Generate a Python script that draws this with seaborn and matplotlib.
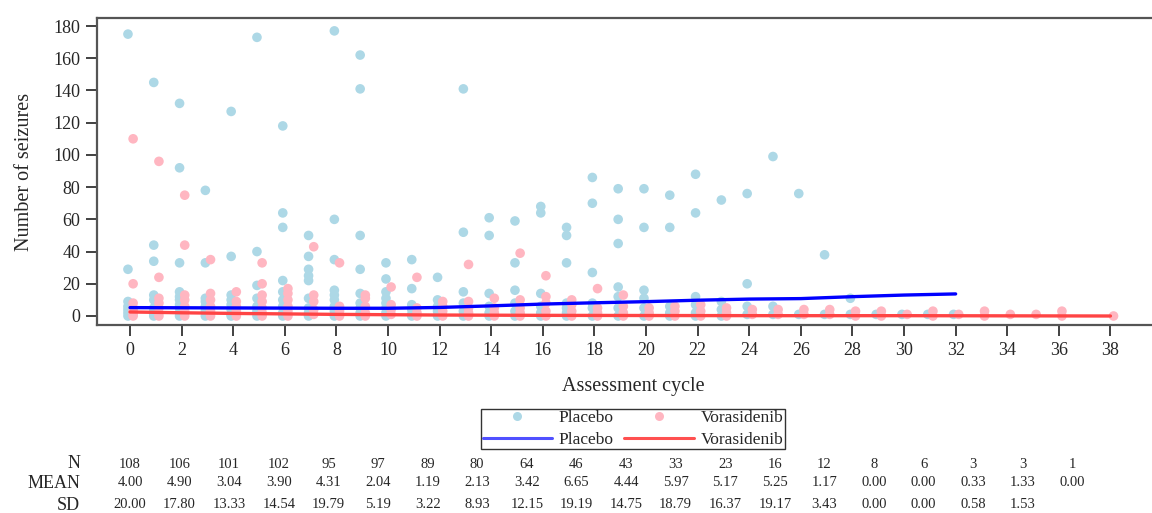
import matplotlib
matplotlib.use("Agg")
import matplotlib.pyplot as plt
from matplotlib.lines import Line2D
import seaborn as sns
import pandas as pd

# scatter values per assessment cycle
placebo_pts = {
    0: [175, 29, 9, 6, 4, 2, 0],
    1: [145, 44, 34, 13, 10, 5, 3, 1, 0],
    2: [132, 92, 33, 15, 12, 10, 7, 5, 2, 0],
    3: [78, 33, 11, 9, 6, 3, 0],
    4: [127, 37, 13, 10, 7, 4, 1, 0],
    5: [173, 40, 19, 11, 6, 3, 0],
    6: [118, 64, 55, 22, 15, 10, 6, 2, 0],
    7: [50, 37, 29, 25, 22, 11, 5, 2, 0],
    8: [177, 60, 35, 16, 13, 10, 6, 3, 0],
    9: [162, 141, 50, 29, 14, 8, 5, 2, 0],
    10: [33, 23, 15, 11, 8, 5, 2, 0],
    11: [35, 17, 7, 4, 1, 0],
    12: [24, 10, 6, 3, 0],
    13: [141, 52, 15, 8, 3, 0],
    14: [61, 50, 14, 6, 2, 0],
    15: [59, 33, 16, 8, 3, 0],
    16: [68, 64, 14, 6, 2, 0],
    17: [55, 50, 33, 8, 5, 2, 0],
    18: [86, 70, 27, 8, 5, 0],
    19: [79, 60, 45, 18, 12, 5, 0],
    20: [79, 55, 16, 11, 5, 0],
    21: [75, 55, 6, 2, 0],
    22: [88, 64, 12, 7, 2, 0],
    23: [72, 9, 4, 0],
    24: [76, 20, 6, 1],
    25: [99, 6, 1],
    26: [76, 1],
    27: [38, 1],
    28: [11, 1],
    29: [1],
    30: [1],
    31: [1],
    32: [1],
}
vora_pts = {
    0: [110, 20, 8, 5, 3, 1, 0],
    1: [96, 24, 11, 8, 5, 2, 0],
    2: [75, 44, 13, 10, 6, 3, 0],
    3: [35, 14, 10, 6, 3, 0],
    4: [15, 9, 6, 3, 0],
    5: [33, 20, 13, 9, 5, 2, 0],
    6: [17, 14, 10, 6, 3, 0],
    7: [43, 13, 9, 4, 1],
    8: [33, 6, 3, 0],
    9: [13, 11, 6, 2, 0],
    10: [18, 7, 4, 1],
    11: [24, 5, 2, 0],
    12: [9, 6, 3, 0],
    13: [32, 9, 5, 2, 0],
    14: [11, 5, 2, 0],
    15: [39, 10, 5, 2, 0],
    16: [25, 12, 8, 3, 0],
    17: [10, 7, 3, 0],
    18: [17, 5, 2, 0],
    19: [13, 6, 2, 0],
    20: [5, 2, 0],
    21: [6, 3, 0],
    22: [7, 3, 0],
    23: [5, 2, 0],
    24: [4, 1],
    25: [4, 1],
    26: [4, 1],
    27: [4, 1],
    28: [3, 0],
    29: [3, 0],
    30: [1],
    31: [3, 0],
    32: [1],
    33: [3, 0],
    34: [1],
    35: [1],
    36: [3, 0],
    38: [0],
}

# smoothed mean lines
placebo_line_x = [0, 2, 4, 6, 8, 10, 12, 14, 16, 18, 20, 22, 24, 26, 28, 30, 32]
placebo_line_y = [5.2, 5.1, 5.0, 4.9, 4.8, 4.8, 5.3, 6.3, 7.4, 8.2, 8.9, 9.8, 10.5, 10.8, 12.0, 13.0, 13.7]
vora_line_x = [0, 2, 4, 6, 8, 10, 12, 14, 16, 20, 25, 30, 38]
vora_line_y = [2.5, 2.0, 1.6, 1.3, 1.0, 0.8, 0.6, 0.5, 0.4, 0.3, 0.2, 0.2, 0.0]

# summary table
n_vals = ["108", "106", "101", "102", "95", "97", "89", "80", "64", "46",
          "43", "33", "23", "16", "12", "8", "6", "3", "3", "1"]
mean_vals = ["4.00", "4.90", "3.04", "3.90", "4.31", "2.04", "1.19", "2.13", "3.42", "6.65",
             "4.44", "5.97", "5.17", "5.25", "1.17", "0.00", "0.00", "0.33", "1.33", "0.00"]
sd_vals = ["20.00", "17.80", "13.33", "14.54", "19.79", "5.19", "3.22", "8.93", "12.15", "19.19",
           "14.75", "18.79", "16.37", "19.17", "3.43", "0.00", "0.00", "0.58", "1.53", ""]

rows = []
for cyc, vals in placebo_pts.items():
    for v in vals:
        rows.append({"cycle": cyc - 0.08, "seizures": v, "group": "Placebo"})
for cyc, vals in vora_pts.items():
    for v in vals:
        rows.append({"cycle": cyc + 0.12, "seizures": v, "group": "Vorasidenib"})
pts = pd.DataFrame(rows)

lines = pd.concat([
    pd.DataFrame({"cycle": placebo_line_x, "seizures": placebo_line_y, "group": "Placebo"}),
    pd.DataFrame({"cycle": vora_line_x, "seizures": vora_line_y, "group": "Vorasidenib"}),
])

sns.set_style("white")
plt.rcParams["font.family"] = ["Liberation Serif", "DejaVu Serif"]

W, H = 1152, 513
fig = plt.figure(figsize=(W / 100, H / 100), dpi=100)
ax = fig.add_axes([97 / W, 1 - 325 / H, (1169 - 97) / W, (325 - 18) / H])

dot_pal = {"Placebo": "#add8e6", "Vorasidenib": "#ffb6c1"}
line_pal = {"Placebo": "#0000ff", "Vorasidenib": "#ff4444"}

sns.scatterplot(data=pts, x="cycle", y="seizures", hue="group", palette=dot_pal,
                s=48, edgecolor="none", legend=False, ax=ax)
sns.lineplot(data=lines, x="cycle", y="seizures", hue="group", palette=line_pal,
             linewidth=2.4, legend=False, ax=ax)

ax.set_xlim(-1.28, 40.27)
ax.set_ylim(-5.59, 185)
ax.set_xticks(range(0, 39, 2))
ax.set_yticks(range(0, 181, 20))
ax.tick_params(axis="both", which="major", direction="out", length=8, width=1.3,
               color="#333333", labelsize=13, pad=4, left=True, bottom=True)
for side in ["left", "bottom", "top"]:
    ax.spines[side].set_color("#555555")
    ax.spines[side].set_linewidth(1.6)
ax.spines["right"].set_visible(False)
ax.set_xlabel("Assessment cycle", fontsize=14.5, labelpad=13)
ax.set_ylabel("Number of seizures", fontsize=14.5, labelpad=14)

handles = [
    Line2D([], [], marker="o", color="none", markerfacecolor=dot_pal["Placebo"],
           markeredgecolor="none", markersize=6.5),
    Line2D([], [], color="#5050ff", linewidth=2.2),
    Line2D([], [], marker="o", color="none", markerfacecolor=dot_pal["Vorasidenib"],
           markeredgecolor="none", markersize=6.5),
    Line2D([], [], color="#ff5050", linewidth=2.2),
]
labels = ["Placebo", "Placebo", "Vorasidenib", "Vorasidenib"]
leg = fig.legend(handles, labels, ncol=2, loc="center", bbox_to_anchor=(633 / W, 1 - 429 / H),
                 frameon=True, fancybox=False, edgecolor="black", fontsize=12.5,
                 handlelength=4.0, handletextpad=0.4, columnspacing=0.6,
                 labelspacing=0.3, borderpad=0.1)
leg.get_frame().set_linewidth(1.0)

# summary rows under the chart
row_y = [464, 483, 505]
for label, vals, yy in zip(["N", "MEAN", "SD"], [n_vals, mean_vals, sd_vals], row_y):
    fig.text(80 / W, 1 - yy / H, label, ha="right", va="center", fontsize=13)
    for i, v in enumerate(vals):
        fig.text((130 + i * 49.6) / W, 1 - yy / H, v, ha="center", va="center", fontsize=10.5)

fig.savefig("out.png", dpi=100)
